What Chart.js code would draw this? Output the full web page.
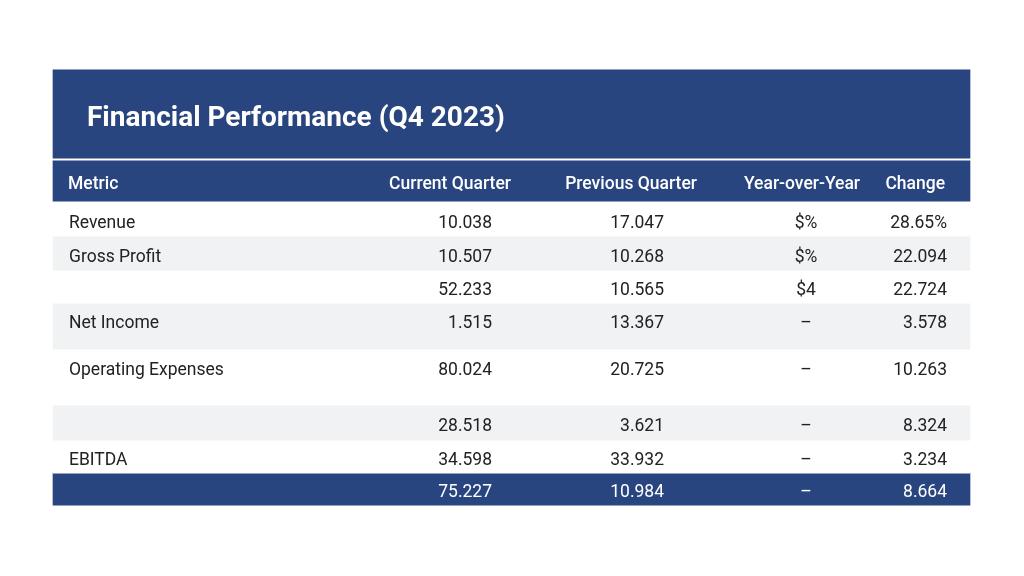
<!DOCTYPE html>
<html>
<head>
<meta charset="utf-8">
<script src="https://cdn.jsdelivr.net/npm/chart.js@4.4.1/dist/chart.umd.min.js"></script>
<style>
  html, body { margin: 0; padding: 0; background: #ffffff; }
  #wrap { width: 1024px; height: 576px; }
</style>
</head>
<body>
<div id="wrap"><canvas id="table"></canvas></div>
<script>
// table content
const title = "Financial Performance (Q4 2023)";
const headers = ["Metric", "Current Quarter", "Previous Quarter", "Year-over-Year", "Change"];
const metrics = ["Revenue", "Gross Profit", "", "Net Income", "Operating Expenses", "", "EBITDA", ""];
const currentQuarter = ["10.038", "10.507", "52.233", "1.515", "80.024", "28.518", "34.598", "75.227"];
const previousQuarter = ["17.047", "10.268", "10.565", "13.367", "20.725", "3.621", "33.932", "10.984"];
const yearOverYear = ["$%", "$%", "$4", "\u2013", "\u2013", "\u2013", "\u2013", "\u2013"];
const change = ["28.65%", "22.094", "22.724", "3.578", "10.263", "8.324", "3.234", "8.664"];

// layout (scale units = pixels of the 1024x576 canvas)
const tableLeft = 53, tableRight = 970;
const rowTop    = [201, 236, 270, 303, 349, 405, 440, 473];
const rowBottom = [236, 270, 303, 349, 405, 440, 473, 505];
const rowTextY  = [221, 255, 288, 321, 368, 424, 458, 490];
const colX      = [69, 492, 664, 806, 947];
const colAlign  = ["left", "right", "right", "center", "right"];
const headX     = [68, 511, 697, 802, 945];
const textShift = 3; // "middle" baseline sits a bit high for Roboto

const navy = "#29457f";
const stripe = "#f1f2f4";
const rowColors = ["#ffffff", stripe, "#ffffff", stripe, "#ffffff", stripe, "#ffffff", navy];

function band(top, bottom, color) {
    return {
        data: [{ x: [tableLeft, tableRight], y: (top + bottom) / 2 }],
        backgroundColor: color,
        barThickness: bottom - top + 0.5,
        grouped: false,
        borderWidth: 0
    };
}

const datasets = [band(70, 158, navy), band(161, 201, navy)];
rowTop.forEach((t, i) => datasets.push(band(t, rowBottom[i], rowColors[i])));

const tableText = {
    id: "tableText",
    afterDatasetsDraw(chart) {
        const ctx = chart.ctx;
        const xs = chart.scales.x;
        const ys = chart.scales.y;
        ctx.save();
        ctx.textBaseline = "middle";

        ctx.fillStyle = "#ffffff";
        ctx.font = "bold 28px Roboto";
        ctx.textAlign = "left";
        ctx.fillText(title, xs.getPixelForValue(87), ys.getPixelForValue(116) + textShift);

        ctx.font = "500 17.5px Roboto";
        headers.forEach((h, i) => {
            ctx.textAlign = i === 0 ? "left" : (i === 3 ? "center" : "right");
            ctx.fillText(h, xs.getPixelForValue(headX[i]), ys.getPixelForValue(182) + textShift);
        });

        const cols = [metrics, currentQuarter, previousQuarter, yearOverYear, change];
        ctx.font = "17.5px Roboto";
        rowTop.forEach((t, r) => {
            ctx.fillStyle = r === rowTop.length - 1 ? "#ffffff" : "#222222";
            cols.forEach((col, c) => {
                if (!col[r]) return;
                ctx.textAlign = colAlign[c];
                ctx.fillText(col[r], xs.getPixelForValue(colX[c]), ys.getPixelForValue(rowTextY[r]) + textShift);
            });
        });
        ctx.restore();
    }
};

new Chart(document.getElementById("table").getContext("2d"), {
    type: "bar",
    data: { datasets: datasets },
    options: {
        indexAxis: "y",
        responsive: true,
        maintainAspectRatio: false,
        animation: false,
        layout: { padding: 0 },
        scales: {
            x: { type: "linear", min: 0, max: 1024, offset: false, display: false },
            y: { type: "linear", min: 0, max: 576, reverse: true, offset: false, display: false }
        },
        plugins: {
            legend: { display: false },
            tooltip: { enabled: false }
        }
    },
    plugins: [tableText]
});
</script>
</body>
</html>
